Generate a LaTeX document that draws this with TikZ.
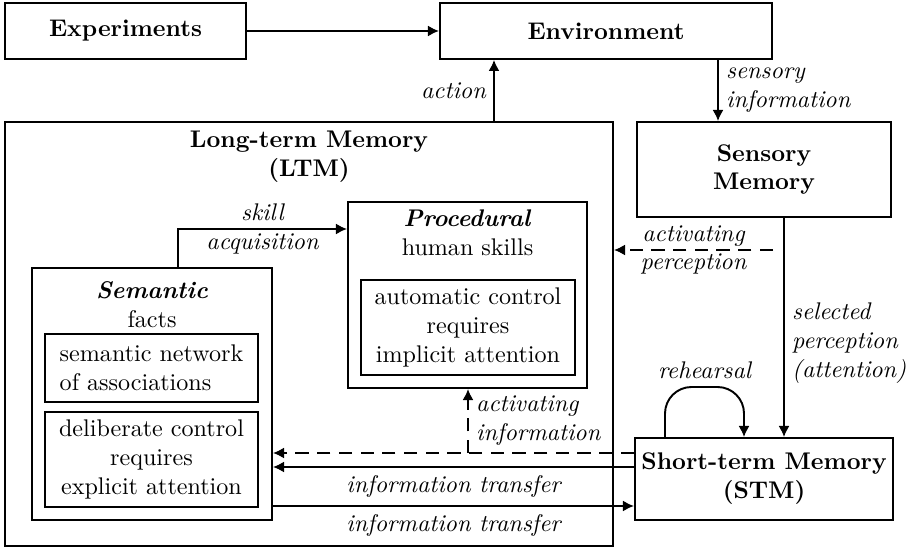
\documentclass[tikz,border=0pt]{standalone}
\usepackage{tikz}
\usetikzlibrary{arrows.meta, positioning}

\begin{document}
\begin{tikzpicture}[
  x=0.415pt, y=-0.415pt,
  box/.style={rectangle, draw, thick, align=center, inner sep=2pt},
  bigbox/.style={box, font=\bfseries},
  title/.style={align=center, inner sep=0pt},
  arrow/.style={-{Latex[length=4.6pt, width=4.6pt]}, thick},
  dashline/.style={dash pattern=on 5.5pt off 3.5pt},
  lbl/.style={font=\itshape, align=left, inner sep=3pt}
]
\useasboundingbox (0,0) rectangle (916,550);

\node[bigbox, minimum width=100pt, minimum height=23.2pt] (exp) at (125.5,31) {Experiments};
\node[bigbox, minimum width=137.8pt, minimum height=23.2pt] (env) at (606,31) {Environment};
\node[bigbox, minimum width=105.4pt, minimum height=39.4pt] (sens) at (764,169.5) {Sensory\\Memory};
\node[bigbox, minimum width=107.1pt, minimum height=34pt] (stm) at (764,479) {Short-term Memory\\(STM)};

\node[box, minimum width=252.3pt, minimum height=176pt] (ltm) at (309,334) {};
\node[title, font=\bfseries] (ltmtitle) at (309,157) {Long-term Memory\\(LTM)};

\node[box, minimum width=99.6pt, minimum height=104.6pt] (sem) at (152,394) {};
\node[title] (semtitle) at (152,305) {\textbf{\textit{Semantic}}\\facts};
\node[box, align=left, minimum width=88.4pt, minimum height=28.2pt] (net) at (151.5,368) {semantic network\\of associations};
\node[box, minimum width=88.4pt, minimum height=39.4pt] (delib) at (151.5,459.5) {deliberate control\\requires\\explicit attention};

\node[box, minimum width=99.2pt, minimum height=77.2pt] (proc) at (467.5,295) {};
\node[title] (proctitle) at (467.5,233) {\textbf{\textit{Procedural}}\\human skills};
\node[box, minimum width=88.8pt, minimum height=39.4pt] (auto) at (468,327.5) {automatic control\\requires\\implicit attention};

% bends and branch points
\coordinate (actx) at (494,90);
\coordinate (sensx) at (718,90);
\coordinate (selx) at (784,330);
\coordinate (percy) at (773,250);
\coordinate (rehl) at (665,387);
\coordinate (rehr) at (744,387);
\coordinate (acty) at (468,453);
\coordinate (tfa) at (450,467);
\coordinate (tfb) at (450,506);
\coordinate (skx) at (178,229);

\draw[arrow] (exp) -- (env);
\draw[arrow] (ltm.north -| actx) -- node[lbl, left] (actlbl) {action} (env.south -| actx);
\draw[arrow] (env.south -| sensx) -- node[lbl, right] (senslbl) {sensory\\information} (sens.north -| sensx);
\draw[arrow] (sens.south -| selx) -- node[lbl, right, pos=0.57] (sellbl) {selected\\perception\\(attention)} (stm.north -| selx);
\draw[arrow, dashline] (percy) -- node[lbl, align=center] (perclbl) {activating\\perception} (ltm.east |- percy);
\draw[arrow, rounded corners=11pt] (stm.north -| rehl) -- (rehl) -| node[lbl, above, pos=0.25] (rehlbl) {rehearsal} (stm.north -| rehr);

\draw[arrow, dashline] (stm.west |- acty) -- (sem.east |- acty);
\draw[arrow, dashline] (acty) -- node[lbl, right] (actinflbl) {activating\\information} (proc.south -| acty);
\draw[arrow] (stm.west |- tfa) -- node[lbl, below] (tfalbl) {information transfer} (sem.east |- tfa);
\draw[arrow] (sem.east |- tfb) -- node[lbl, below] (tfblbl) {information transfer} (stm.west |- tfb);
\draw[arrow] (sem.north -| skx) |- node[lbl, align=center, pos=0.75] (skilllbl) {skill\\acquisition} (proc.west |- skx);
\end{tikzpicture}
\end{document}
